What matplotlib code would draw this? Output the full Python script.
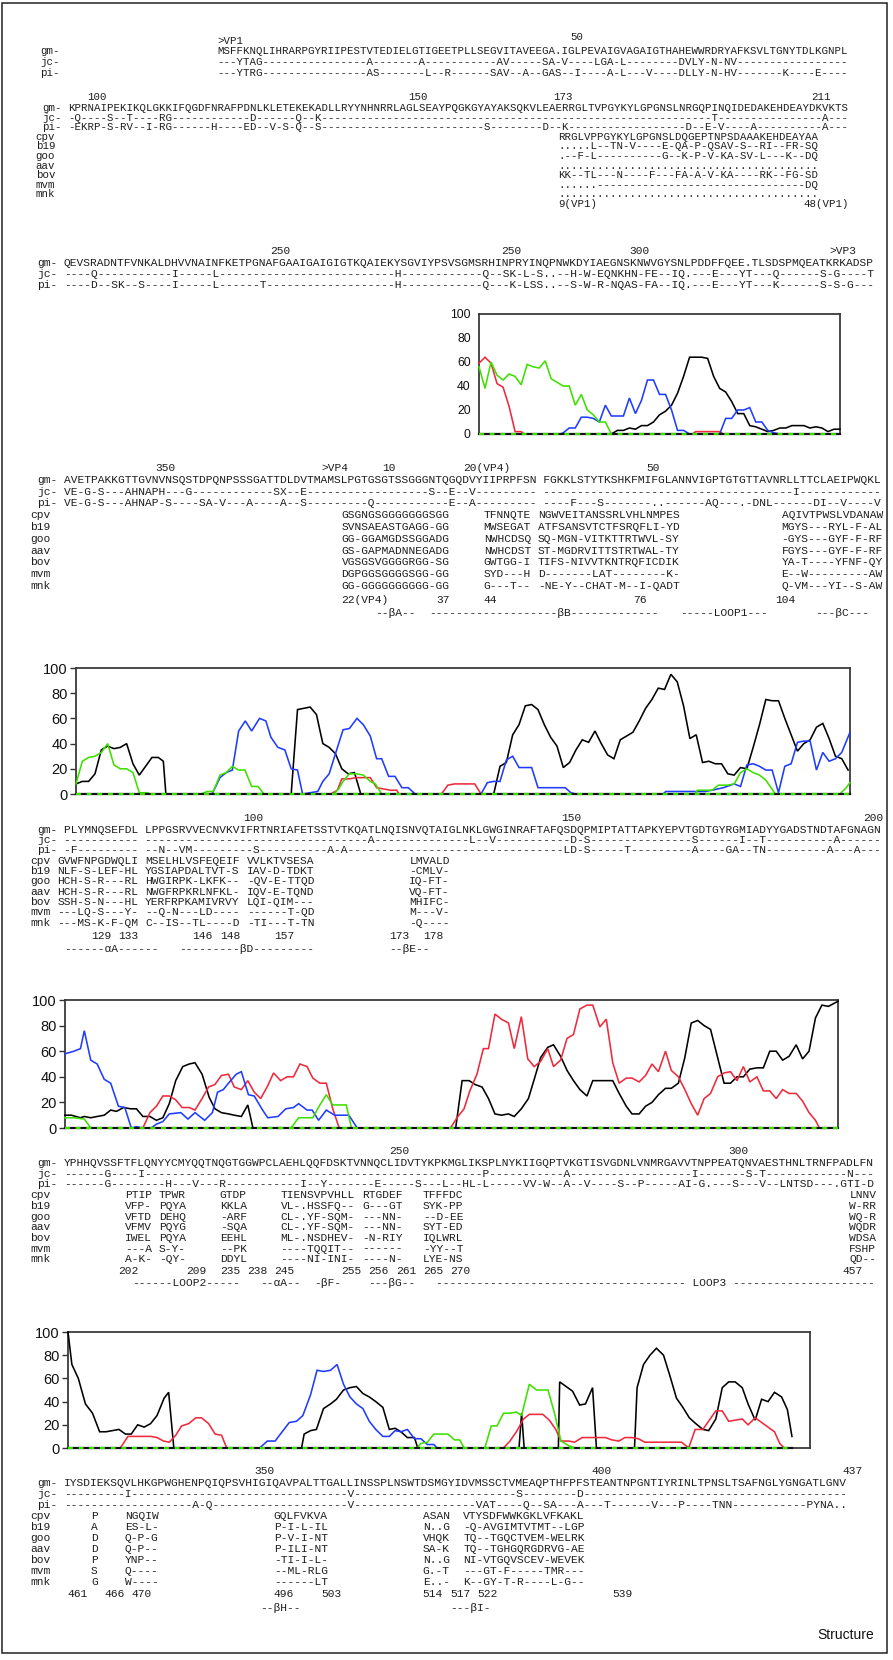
import numpy as np
import matplotlib
matplotlib.use("Agg")
import matplotlib.pyplot as plt
from matplotlib.patches import Rectangle


def mut(n, subs):
    """alignment row: '-' = identical residue, letters = substitutions"""
    s = ['-'] * n
    for c, t in subs.items():
        s[c:c + len(t)] = list(t)
    return ''.join(s)


SPECIES = ['cpv', 'b19', 'goo', 'aav', 'bov', 'mvm', 'mnk']

# ---------------- block 1 ----------------
gm1 = "MSFFKNQLIHRARPGYRIIPESTVTEDIELGTIGEETPLLSEGVITAVEEGA.IGLPEVAIGVAGAIGTHAHEWWRDRYAFKSVLTGNYTDLKGNPL"
jc1 = mut(97, {3: 'YTAG', 23: 'A', 31: 'A', 43: 'AV', 50: 'SA', 53: 'V', 58: 'LGA', 62: 'L',
               71: 'DVLY', 76: 'N', 78: 'NV'})
pi1 = mut(97, {3: 'YTRG', 23: 'AS', 32: 'L', 35: 'R', 42: 'SAV', 47: 'A', 50: 'GAS', 55: 'I',
               60: 'A', 62: 'L', 66: 'V', 71: 'DLLY', 76: 'N', 78: 'HV', 87: 'K', 92: 'E'})
nums1 = [(55.8, '50')]
marks1 = [(0, '>VP1')]

# ---------------- block 2 ----------------
gm2 = "KPRNAIPEKIKQLGKKIFQGDFNRAFPDNLKLETEKEKADLLRYYNHNRRLAGLSEAYPQGKGYAYAKSQKVLEAERRGLTVPGYKYLGPGNSLNRGQPINQIDEDAKEHDEAYDKVKTS"
jc2 = mut(120, {1: 'Q', 6: 'S', 9: 'T', 14: 'RG', 28: 'D', 35: 'Q', 38: 'K', 99: 'T', 116: 'A'})
pi2 = mut(120, {1: 'EKRP', 6: 'S', 8: 'RV', 12: 'I', 14: 'RG', 22: 'H', 27: 'ED', 31: 'V', 33: 'S',
                35: 'Q', 38: 'S', 64: 'S', 73: 'D', 76: 'K', 95: 'D', 98: 'E', 100: 'V', 105: 'A', 116: 'A'})
sp2 = [
    ["RRGLVPPGYKYLGPGNSLDQGEPTNPSDAAAKEHDEAYAA"],
    [".....L--TN-V----E-QA-P-QSAV-S--RI--FR-SQ"],
    [".--F-L----------G--K-P-V-KA-SV-L---K--DQ"],
    ["........................................"],
    ["KK--TL---N----F---FA-A-V-KA----RK--FG-SD"],
    ["......--------------------------------DQ"],
    ["........................................"],
]
cols2 = [76]
nums2 = [(4.5, '100'), (54.3, '150'), (76.7, '173'), (116.7, '211')]
pos2 = [(76, '9(VP1)'), (114, '48(VP1)')]

# ---------------- block 3 ----------------
gm3 = "QEVSRADNTFVNKALDHVVNAINFKETPGNAFGAAIGAIGIGTKQAIEKYSGVIYPSVSGMSRHINPRYINQPNWKDYIAEGNSKNWVGYSNLPDDFFQEE.TLSDSPMQEATKRKADSP"
jc3 = mut(120, {4: 'Q', 16: 'I', 22: 'L', 49: 'H', 62: 'Q', 65: 'SK', 68: 'L', 70: 'S', 71: '..',
                75: 'H', 77: 'W', 79: 'EQNKHN', 86: 'FE', 90: 'IQ.', 96: 'E', 100: 'YT', 105: 'Q',
                112: 'S', 114: 'G', 119: 'T'})
pi3 = mut(120, {4: 'D', 7: 'SK', 11: 'S', 16: 'I', 22: 'L', 29: 'T', 49: 'H', 62: 'Q', 66: 'K',
                68: 'LSS', 71: '..', 75: 'S', 77: 'W', 79: 'R', 81: 'NQAS', 86: 'FA', 90: 'IQ.',
                96: 'E', 100: 'YT', 105: 'K', 112: 'S', 114: 'S', 116: 'G'})
nums3 = [(32, '250'), (66, '250'), (85, '300')]
marks3 = [(113, '>VP3')]

# ---------------- block 4 ----------------
gm4 = "AVETPAKKGTTGVNVNSQSTDPQNPSSSGATTDLDVTMAMSLPGTGSGTSSGGGNTQGQDVYIIPRPFSN FGKKLSTYTKSHKFMIFGLANNVIGPTGTGTTAVNRLLTTCLAEIPWQKL"
jc4 = mut(121, {0: 'VE', 3: 'G', 5: 'S', 9: 'AHNAPH', 18: 'G', 31: 'SX', 35: 'E', 54: 'S', 57: 'E',
                60: 'V', 70: ' ', 108: 'I'})
pi4 = mut(121, {0: 'VE', 3: 'G', 5: 'S', 9: 'AHNAP', 15: 'S', 20: 'SA', 23: 'V', 27: 'A', 32: 'A',
                35: 'S', 45: 'Q', 57: 'E', 60: 'A', 70: ' ', 75: 'F', 79: 'S', 87: '..', 95: 'AQ',
                100: '.', 102: 'DNL', 111: 'DI', 115: 'V', 120: 'V'})
cols4 = [41, 62, 70, 106]
sp4 = [
    ["GSGNGSGGGGGGGSGG", "TFNNQTE", "NGWVEITANSSRLVHLNMPES", "AQIVTPWSLVDANAW"],
    ["SVNSAEASTGAGG-GG", "MWSEGAT", "ATFSANSVTCTFSRQFLI-YD", "MGYS---RYL-F-AL"],
    ["GG-GGAMGDSSGGADG", "NWHCDSQ", "SQ-MGN-VITKTTRTWVL-SY", "-GYS---GYF-F-RF"],
    ["GS-GAPMADNNEGADG", "NWHCDST", "ST-MGDRVITTSTRTWAL-TY", "FGYS---GYF-F-RF"],
    ["VGSGSVGGGGRGG-SG", "GWTGG-I", "TIFS-NIVVTKNTRQFICDIK", "YA-T----YFNF-QY"],
    ["DGPGGSGGGGSGG-GG", "SYD---H", "D-------LAT--------K-", "E--W---------AW"],
    ["GG-GGGGGGGGGG-GG", "G---T--", "-NE-Y--CHAT-M--I-QADT", "Q-VM---YI--S-AW"],
]
nums4 = [(15, '350'), (48, '10'), (87, '50')]
marks4 = [(38, '>VP4'), (59, '20(VP4)')]
pos4 = [(41, '22(VP4)'), (55, '37'), (62, '44'), (84, '76'), (105, '104')]
struct4 = [(46, '--βA--'), (54, '-------------------βB-------------'), (91, '-----LOOP1---'),
           (111, '---βC---')]

# ---------------- block 5 ----------------
gm5 = "PLYMNQSEFDL LPPGSRVVECNVKVIFRTNRIAFETSSTVTKQATLNQISNVQTAIGLNKLGWGINRAFTAFQSDQPMIPTATTAPKYEPVTGDTGYRGMIADYYGADSTNDTAFGNAGN"
jc5 = mut(121, {11: ' ', 45: 'A', 60: 'L', 63: 'V', 75: 'D', 77: 'S', 93: 'S', 100: 'I', 103: 'T',
                114: 'A'})
pi5 = mut(121, {1: 'F', 11: ' ', 14: 'N', 17: 'VM', 28: 'S', 39: 'A', 41: 'A', 74: 'LD', 77: 'S',
                83: 'T', 93: 'A', 98: 'GA', 102: 'TN', 113: 'A', 117: 'A'})
cols5 = [-1, 12, 27, 51]
sp5 = [
    ["GVWFNPGDWQLI", "MSELHLVSFEQEIF", "VVLKTVSESA", "LMVALD"],
    ["NLF-S-LEF-HL", "YGSIAPDALTVT-S", "IAV-D-TDKT", "-CMLV-"],
    ["HCH-S-R---RL", "HWGIRPK-LKFK--", "-QV-E-TTQD", "IQ-FT-"],
    ["HCH-S-R---RL", "NWGFRPKRLNFKL-", "IQV-E-TQND", "VQ-FT-"],
    ["SSH-S-N---HL", "YERFRPKAMIVRVY", "LQI-QIM---", "MHIFC-"],
    ["---LQ-S---Y-", "--Q-N---LD----", "------T-QD", "M---V-"],
    ["---MS-K-F-QM", "C--IS--TL----D", "-TI---T-TN", "-Q----"],
]
nums5 = [(28, '100'), (75, '150'), (119.5, '200')]
pos5 = [(4, '129'), (8, '133'), (19, '146'), (23, '148'), (31, '157'), (48, '173'), (53, '178')]
struct5 = [(0, '------αA------'), (17, '---------βD---------'), (48, '--βE--')]

# ---------------- block 6 ----------------
gm6 = "YPHHQVSSFTFLQNYYCMYQQTNQGTGGWPCLAEHLQQFDSKTVNNQCLIDVTYKPKMGLIKSPLNYKIIGQPTVKGTISVGDNLVNMRGAVVTNPPEATQNVAESTHNLTRNFPADLFN"
jc6 = mut(120, {6: 'G', 11: 'I', 62: 'P', 74: 'A', 93: 'I', 101: 'S', 103: 'T', 116: 'N'})
pi6 = mut(120, {6: 'G', 15: 'H', 19: 'V', 23: 'R', 35: 'I', 38: 'Y', 46: 'E', 52: 'S', 56: 'L',
                59: 'HL', 62: 'L', 68: 'VV', 71: 'W', 74: 'A', 77: 'V', 82: 'S', 85: 'P', 91: 'AI',
                94: 'G.', 99: 'S', 103: 'V', 106: 'LNTSD', 114: '.GTI', 119: 'D'})
cols6 = [9, 14, 23, 32, 44, 53, 116]
sp6 = [
    ["PTIP", "TPWR", "GTDP", "TIENSVPVHLL", "RTGDEF", "TFFFDC", "LNNV"],
    ["VFP-", "PQYA", "KKLA", "VL-.HSSFQ--", "G---GT", "SYK-PP", "W-RR"],
    ["VFTD", "DEHQ", "-ARF", "CL-.YF-SQM-", "---NN-", "--D-EE", "WQ-R"],
    ["VFMV", "PQYG", "-SQA", "CL-.YF-SQM-", "---NN-", "SYT-ED", "WQDR"],
    ["IWEL", "PQYA", "EEHL", "ML-.NSDHEV-", "-N-RIY", "IQLWRL", "WDSA"],
    ["---A", "S-Y-", "--PK", "----TQQIT--", "------", "-YY--T", "FSHP"],
    ["A-K-", "-QY-", "DDYL", "----NI-INI-", "----N-", "LYE-NS", "QD--"],
]
nums6 = [(49.5, '250'), (99.7, '300')]
pos6 = [(8, '202'), (18, '209'), (23, '235'), (27, '238'), (31, '245'), (41, '255'), (45, '256'),
        (49, '261'), (53, '265'), (57, '270'), (115, '457')]
struct6 = [(10, '------LOOP2-----'), (29, '--αA--'), (37, '-βF-'), (45, '---βG--'),
           (55, '------------------------------------- LOOP3 ---------------------')]

# ---------------- block 7 ----------------
gm7 = "IYSDIEKSQVLHKGPWGHENPQIQPSVHIGIQAVPALTTGALLINSSPLNSWTDSMGYIDVMSSCTVMEAQPTHFPFSTEANTNPGNTIYRINLTPNSLTSAFNGLYGNGATLGNV"
jc7 = mut(116, {9: 'I', 42: 'V', 67: 'S', 76: 'D'})
pi7 = mut(116, {19: 'A', 21: 'Q', 42: 'V', 61: 'VAT', 68: 'Q', 71: 'SA', 76: 'A', 80: 'T', 87: 'V',
                91: 'P', 96: 'TNN', 110: 'PYNA..'})
cols7 = [4, 9, 31, 53, 59]
sp7 = [
    ["P", "NGQIW", "GQLFVKVA", "ASAN", "VTYSDFWWKGKLVFKAKL"],
    ["A", "ES-L-", "P-I-L-IL", "N..G", "-Q-AVGIMTVTMT--LGP"],
    ["D", "Q-P-G", "P-V-I-NT", "VHQK", "TQ--TGQCTVEM-WELRK"],
    ["D", "Q-P--", "P-ILI-NT", "SA-K", "TQ--TGHGQRGDRVG-AE"],
    ["P", "YNP--", "-TI-I-L-", "N..G", "NI-VTGQVSCEV-WEVEK"],
    ["S", "Q----", "--ML-RLG", "G.-T", "---GT-F-----TMR---"],
    ["G", "W----", "------LT", "E..-", "K--GY-T-R----L-G--"],
]
nums7 = [(29.6, '350'), (79.4, '400'), (116.5, '437')]
pos7 = [(0.5, '461'), (6, '466'), (10, '470'), (31, '496'), (38, '503'), (53, '514'), (57, '517'),
        (61, '522'), (81, '539')]
struct7 = [(29, '--βH--'), (57, '---βI-')]

# ---------------- line-plot series (x = alignment position, y = %) ----------------
p1_black_x = [0, 22, 23, 24, 25, 26, 27, 28, 29, 30, 31, 32, 33, 34, 35, 36, 37, 38, 39, 40, 41, 42,
              43, 44, 45, 46, 47, 48, 49, 50, 51, 52, 53, 54, 55, 56, 57, 58, 59, 60]
p1_black_y = [0, 0, 3, 3, 5, 4, 7, 7, 10, 16, 19, 24, 34, 48, 64, 64, 64, 63, 48, 38, 35, 27,
              17, 17, 7, 6, 4, 2, 3, 5, 5, 7, 7, 7, 5, 6, 5, 2, 4, 4]
p1_blue_x = [0, 13.5, 14, 15, 16, 17, 18, 19, 20, 21, 22, 23, 24, 25, 26, 27, 28, 29, 30, 31, 32, 33,
             34, 35, 40, 41, 42, 43, 44, 45, 46, 47, 48, 49, 50, 60]
p1_blue_y = [0, 0, 1, 5, 5, 14, 14, 13, 10, 24, 15, 15, 15, 30, 17, 28, 45, 45, 33, 33, 20, 3,
             3, 0, 0, 13, 13, 20, 20, 22, 10, 10, 3, 1, 0, 0]
p1_red_x = [0, 1, 2, 3, 4, 5, 6, 7, 7.5, 35.5, 36, 40, 40.6, 60]
p1_red_y = [59, 64, 59, 42, 39, 23, 2, 2, 0, 0, 2, 2, 0, 0]
p1_green_x = [0, 1, 2, 3, 4, 5, 6, 7, 8, 9, 10, 11, 12, 13, 14, 15, 16, 17, 18, 19, 20, 21, 22, 60]
p1_green_y = [56, 38, 60, 49, 45, 50, 48, 41, 58, 56, 55, 61, 46, 43, 40, 40, 24, 33, 20, 16, 10,
              10, 0, 0]

p2_black_x = [0, 1, 2, 3, 4, 5, 6, 7, 8, 9, 10, 11, 12, 13, 13.8, 14.2, 34, 35, 36, 37, 38, 39, 40,
              41, 42, 43, 44, 45] + list(range(66, 123))
p2_black_y = [8, 10, 10, 16, 35, 38, 36, 37, 40, 24, 15, 22, 29, 29, 26, 0, 0, 67, 68, 69, 63, 40,
              37, 32, 20, 16, 17, 0,
              0, 22, 25, 47, 55, 70, 71, 67, 55, 45, 38, 21, 25, 35, 43, 41, 50, 40, 31, 28, 43, 46,
              49, 58, 68, 75, 84, 83, 95, 89, 70, 44, 47, 25, 26, 24, 24, 16, 15, 21, 20, 37, 55,
              75, 74, 74, 60, 47, 34, 40, 43, 53, 56, 44, 30, 28, 19]
p2_blue_x = [0, 21.5, 22.75, 23.75, 24.7, 25.7, 26.75, 27.75, 29, 30, 30.8, 31.9, 33, 34, 35, 35.8,
             37, 38.2, 39, 40, 41, 42.2, 43.2, 44.4, 45.4, 46.5, 47.5, 48.3, 49.4, 50.4, 51.5, 52.5,
             53.6, 64, 65, 66, 67, 68, 69, 70, 72, 73, 74, 77.3, 78.2, 79, 92.75, 93.2, 99.4, 100.5,
             102.3, 104, 105, 106, 107, 108, 109, 110, 111, 112, 113, 114, 115, 116, 117, 118, 119,
             120, 121, 122.3]
p2_blue_y = [0, 0, 13, 17, 19, 50, 58, 50, 60, 58, 45, 37, 35, 20, 19, 0, 1, 2, 10, 16, 32, 51, 52,
             60, 55, 46, 28, 28, 14, 14, 5, 5, 0, 0, 9, 10, 10, 27, 30, 21, 21, 5, 5, 5, 1, 0, 0, 2,
             2, 3, 5, 8, 6, 23, 24, 22, 19, 19, 1, 22, 24, 41, 42, 42, 19, 33, 26, 28, 33, 49]
p2_red_x = [0, 40.25, 41.3, 42, 43.2, 44.25, 46.5, 47.5, 48.6, 49.7, 50.7, 51, 57.75, 58.75, 59.8,
            63, 64, 122.3]
p2_red_y = [0, 0, 3, 12, 12, 13, 13, 5, 4, 3, 3, 0, 0, 7, 8, 8, 0, 0]
p2_green_x = [0, 1, 2, 3, 4, 5, 6, 7, 8, 9, 10, 11.3, 11.7, 19.8, 20.7, 21.7, 22.75, 23.75, 24.7,
              25.7, 26.7, 27.75, 28.75, 29.7, 40.7, 41.5, 42.2, 43.2, 44.4, 45.4, 46.5, 47.3, 48.3,
              97.75, 98.2, 100.5, 101.5, 102.9, 104, 105, 106, 107, 108, 109, 110.5, 120.7, 121.7,
              122.3]
p2_green_y = [8, 26, 29, 30, 33, 40, 23, 20, 20, 17, 1, 1, 0, 0, 2, 2, 15, 17, 22, 19, 19, 6, 6, 0,
              0, 4, 10, 16, 16, 15, 10, 8, 0, 0, 3, 3, 7, 7, 8, 17, 20, 17, 15, 11, 0, 0, 5, 9]

p3_black_x = [0, 1, 2.4, 3, 4, 5, 6.1, 7.1, 8, 9.1, 10.2, 11.1, 12.1, 13.2, 14.2, 15.2, 16.2, 17.2,
              18.3, 19.3, 20.2, 21.3, 22.4, 23.3, 24.3, 25.4, 26.3, 27.4, 28.4, 29.2, 60.7, 61.7,
              62.8, 63.7, 64.8, 65.8, 66.8, 67.8, 68.9, 69.8, 70.9, 72, 72.9, 73.9, 75, 75.9, 77,
              78, 79, 80, 81.1, 82, 83.1, 84.1, 85.1, 86.1, 87.2, 88.1, 89.2, 90.2, 91.2, 92.2,
              93.3, 94.2, 95.3, 96.3, 97.3, 98.3, 99.3, 100.3, 101.4, 102.4, 103.4, 104.4, 105.4,
              106.4, 107.5, 108.5, 109.5, 110.5, 111.5, 112.5, 113.6, 114.6, 115.6, 116.6, 117.6,
              118.6, 120.1]
p3_black_y = [10, 10, 8, 9, 8, 9, 10, 14, 13, 16, 15, 15, 9, 9, 6, 8, 19, 37, 48, 50, 51, 42, 24,
              15, 12, 11, 10, 9, 18, 0, 0, 37, 37, 34, 32, 23, 11, 10, 11, 9, 15, 23, 38, 55, 63,
              65, 56, 45, 37, 30, 25, 37, 37, 37, 37, 27, 17, 11, 11, 17, 20, 26, 31, 31, 35, 55,
              82, 84, 80, 77, 55, 35, 35, 40, 40, 46, 47, 47, 60, 60, 53, 56, 65, 54, 60, 86, 96,
              95, 99]
p3_blue_x = [0, 1.4, 2.4, 3, 4, 5, 6.1, 7.1, 8.3, 9.3, 10.3, 11.1, 12.1, 13.4, 14.2, 15.2, 16.2, 18,
             19.1, 20.2, 21.7, 22.9, 23.7, 24.6, 25.4, 26.6, 27.4, 28.5, 29.4, 30.7, 31.5, 33.1,
             34.3, 35.5, 36.3, 37.6, 38.4, 39.4, 40.6, 41.9, 44.1, 45.4, 120.1]
p3_blue_y = [58, 60, 62, 76, 53, 50, 38, 35, 17, 16, 0, 1, 0, 0, 3, 5, 11, 12, 7, 12, 6, 12, 28, 30,
             35, 42, 44, 26, 25, 14, 8, 9, 15, 16, 19, 14, 14, 6, 14, 10, 10, 0, 0]
p3_red_x = [0, 12.1, 13.2, 14.2, 15.2, 16.2, 17.2, 18.2, 19.3, 20.2, 21.3, 22.3, 23.3, 24.3, 25.4,
            26.3, 27.4, 28.4, 29.4, 30.4, 31.5, 32.4, 33.5, 34.5, 35.5, 36.5, 37.6, 38.5, 39.6,
            40.6, 41.6, 42.6, 59.9, 60.9, 62, 62.9, 64, 65, 65.8, 66.8, 67.8, 68.9, 69.8, 70.9,
            71.9, 72.9, 73.9, 75, 75.9, 77, 78, 79, 80, 81.1, 82, 83.1, 84.1, 85.1, 86.1, 87.2,
            88.1, 89.2, 90.2, 91.2, 92.2, 93.3, 94.2, 95.3, 96.3, 97.3, 98.3, 99.3, 100.3, 101.4,
            102.4, 103.4, 104.4, 105.4, 106.4, 107.5, 108.5, 109.5, 110.5, 111.5, 112.5, 113.6,
            114.6, 115.6, 116.6, 117.2, 120.1]
p3_red_y = [0, 0, 12, 17, 25, 25, 22, 16, 16, 14, 23, 32, 34, 41, 42, 32, 30, 37, 28, 23, 33, 43,
            37, 40, 40, 50, 48, 39, 35, 35, 15, 0, 0, 8, 15, 29, 42, 62, 62, 89, 85, 82, 62, 87, 54,
            48, 52, 62, 48, 53, 70, 73, 93, 96, 96, 79, 85, 51, 35, 39, 39, 36, 41, 50, 44, 60, 45,
            40, 30, 19, 10, 23, 27, 40, 43, 44, 37, 48, 36, 40, 29, 29, 23, 30, 27, 27, 21, 12, 6,
            0, 0]
p3_green_x = [0, 1.4, 3, 4, 35.1, 36.3, 37.6, 38.5, 39.6, 40.6, 41.6, 43.7, 44.5, 120.1]
p3_green_y = [8, 8, 7, 0, 0, 8, 8, 8, 18, 26, 18, 18, 0, 0]

p4_black_x = [0, 0.6, 1.6, 2.7, 3.8, 4.9, 5.9, 6.9, 7.9, 8.9, 9.8, 10.8, 11.8, 12.8, 13.8, 14.9,
              15.6, 16.4, 36.2, 36.6, 37.6, 38.5, 39.6, 40.7, 41.6, 42.7, 43.7, 44.7, 45.7, 46.7,
              47.7, 48.8, 49.8, 50.7, 51.6, 52.6, 53.7, 54.2, 69.9, 70.3, 70.7, 76, 76.2, 77.2,
              78.2, 79.3, 80.2, 81.3, 81.9, 87.8, 88.2, 89.2, 90.2, 91.2, 92.3, 93.3, 94.3, 95.3,
              96.3, 97.3, 98.4, 99.3, 100.4, 101.4, 102.4, 103.4, 104.5, 105.4, 106.5, 107.5,
              108.5, 109.5, 110.6, 111.5, 112.2]
p4_black_y = [100, 72, 60, 38, 30, 14, 14, 15, 16, 12, 12, 20, 18, 21, 28, 43, 48, 0, 0, 12, 15,
              16, 34, 38, 42, 50, 52, 53, 47, 44, 40, 35, 16, 17, 14, 9, 9, 0, 0, 30, 0, 0, 57, 53,
              49, 37, 38, 52, 0, 0, 52, 72, 80, 86, 80, 62, 43, 35, 26, 21, 16, 15, 25, 52, 57, 57,
              52, 38, 24, 42, 40, 48, 44, 33, 10]
p4_blue_x = [0, 29.7, 30.9, 32.1, 33.2, 34.3, 35.4, 36.4, 37.6, 38.6, 39.6, 40.7, 41.7, 42.7, 43.7,
             44.7, 45.7, 46.7, 47.7, 48.8, 49.8, 50.7, 51.6, 52.6, 53.7, 54.7, 55.7, 56.7, 57.2,
             112.2]
p4_blue_y = [0, 0, 6, 6, 14, 22, 23, 28, 46, 67, 66, 67, 72, 55, 44, 38, 34, 23, 16, 10, 10, 15,
             14, 16, 8, 8, 3, 3, 0, 0]
p4_red_x = [0, 8.1, 9.3, 11.4, 12.8, 13.8, 14.8, 15.7, 16.7, 17.6, 18.7, 19.8, 20.7, 21.8, 22.8,
            23.8, 24.6, 67.5, 68.5, 69.5, 70.6, 71.5, 72.6, 73.6, 74.6, 75.6, 76.4, 77.6, 78.5,
            79.7, 80.9, 82.1, 83.3, 84.3, 85.4, 86.3, 87.4, 88.4, 89.4, 95.1, 96.2, 97.2, 98.4,
            100.4, 101.4, 102.4, 103.4, 104.5, 105.4, 106.5, 107.5, 108.5, 109.5, 110.3, 111,
            112.2]
p4_red_y = [0, 0, 10, 10, 10, 9, 6, 5, 11, 19, 21, 26, 26, 21, 12, 11, 0, 0, 6, 14, 25, 29, 29,
            29, 24, 16, 6, 6, 5, 9, 9, 9, 9, 7, 6, 9, 9, 8, 5, 5, 0, 16, 16, 32, 32, 23, 24, 25,
            20, 26, 22, 18, 14, 4, 0, 0]
p4_green_x = [0, 54.1, 54.7, 55.7, 56.7, 57.9, 58.9, 59.9, 60.7, 61.4, 64.6, 65.6, 66.5, 67.5, 68.5,
              69.5, 70.3, 71.5, 72.6, 73.6, 74.4, 75.4, 76.4, 77.6, 78.6, 112.2]
p4_green_y = [0, 0, 4, 5, 12, 12, 12, 7, 7, 0, 0, 19, 19, 30, 30, 31, 28, 55, 50, 50, 50, 30, 6, 2,
              0, 0]

yticks = [0, 20, 40, 60, 80, 100]

# ---------------- drawing ----------------
W, H = 893, 1660
MONO = ['Liberation Mono', 'DejaVu Sans Mono']
SANS = ['Liberation Sans', 'DejaVu Sans']
NARROW = ['Liberation Sans Narrow', 'Liberation Sans', 'DejaVu Sans']
TXT = '#1e1e1e'
C_BLACK, C_BLUE, C_RED, C_GREEN = '#000000', '#1f3cff', '#ee2a3c', '#3ee000'

fig = plt.figure(figsize=(W / 100, H / 100), dpi=100)
fig.patch.set_facecolor('white')
fig.add_artist(Rectangle((2 / W, 1 - 1653 / H), 885 / W, 1650 / H, transform=fig.transFigure,
                         fill=False, lw=1.1, ec='#222222'))


def put(x, y, s, size, ha='left', color=TXT, family=MONO):
    fig.text(x / W, 1 - y / H, s, fontsize=size, family=family, color=color, ha=ha, va='center')


def block(x0, cw, fs, ynum, y0, dy, main, nums=(), marks=(), ymark=None, lab_x=None,
          species=None, cols=None, pos=(), ypos=None, struct=(), ystruct=None):
    for c, s in nums:
        put(x0 + c * cw, ynum, s, fs, ha='center')
    for c, s in marks:
        put(x0 + c * cw, ymark if ymark is not None else ynum, s, fs)
    lx = lab_x if lab_x is not None else x0 - 4 * cw
    for k, (lab, row) in enumerate(main):
        y = y0 + k * dy
        put(lx, y, lab, fs)
        put(x0, y, row, fs)
    if species:
        for k, segs in enumerate(species):
            y = y0 + (len(main) + k) * dy
            put(x0 - 5 * cw, y, SPECIES[k], fs)
            for c, s in zip(cols, segs):
                put(x0 + c * cw, y, s, fs)
    for c, s in pos:
        put(x0 + c * cw, ypos, s, fs)
    for c, s in struct:
        put(x0 + c * cw, ystruct, s, fs)


FS1, CW1 = 7.74, 6.45
FS2, CW2 = 8.12, 6.77
block(217, CW1, FS1, 37, 51, 11, [('gm-', gm1), ('jc-', jc1), ('pi-', pi1)],
      nums=nums1, marks=marks1, ymark=41, lab_x=40)
block(68, CW1, FS1, 96.5, 108, 9.6, [('gm-', gm2), ('jc-', jc2), ('pi-', pi2)], nums=nums2,
      species=sp2, cols=cols2, pos=pos2, ypos=204)
block(64, CW2, FS2, 251, 263, 11, [('gm-', gm3), ('jc-', jc3), ('pi-', pi3)], nums=nums3,
      marks=marks3)
block(64, CW2, FS2, 468, 480, 11.75, [('gm-', gm4), ('jc-', jc4), ('pi-', pi4)], nums=nums4,
      marks=marks4, species=sp4, cols=cols4, pos=pos4, ypos=600, struct=struct4, ystruct=613)
block(64, CW2, FS2, 818, 829.5, 10.35, [('gm-', gm5), ('jc-', jc5), ('pi-', pi5)], nums=nums5,
      species=sp5, cols=cols5, pos=pos5, ypos=935.5, struct=struct5, ystruct=949)
block(64, CW2, FS2, 1151, 1163, 10.7, [('gm-', gm6), ('jc-', jc6), ('pi-', pi6)], nums=nums6,
      species=sp6, cols=cols6, pos=pos6, ypos=1270.5, struct=struct6, ystruct=1283)
block(64, CW2, FS2, 1471, 1483, 10.97, [('gm-', gm7), ('jc-', jc7), ('pi-', pi7)], nums=nums7,
      species=sp7, cols=cols7, pos=pos7, ypos=1594, struct=struct7, ystruct=1608)

put(874, 1635, 'Structure', 10, ha='right', family=SANS, color='#111111')


def gapped(x, y):
    """do not redraw runs that lie on the zero baseline"""
    xs, ys = [], []
    for i in range(len(x)):
        if i > 0 and y[i] == 0 and y[i - 1] == 0:
            xs.append(np.nan)
            ys.append(np.nan)
        xs.append(x[i])
        ys.append(y[i])
    return xs, ys


def panel(rect, xmax, series, tick_fs, tick_family, ticklen, base_end=None):
    l, r, t, b = rect
    ax = fig.add_axes([l / W, 1 - b / H, (r - l) / W, (b - t) / H])
    ax.set_xlim(0, xmax)
    ax.set_ylim(0, 100)
    for xs, ys, col in series:
        gx, gy = gapped(xs, ys)
        ax.plot(gx, gy, color=col, lw=1.15, solid_joinstyle='miter', clip_on=False, zorder=3)
    end = base_end if base_end is not None else xmax
    ax.plot([0, end], [0, 0], color='#111111', lw=1.6, clip_on=False, zorder=4)
    ax.plot([0, end], [0, 0], color=C_GREEN, lw=1.6, dashes=(2.2, 2.6), clip_on=False, zorder=5)
    ax.set_xticks([])
    ax.set_yticks(yticks)
    ax.set_yticklabels([str(v) for v in yticks], fontsize=tick_fs, family=tick_family,
                       color='#111111')
    ax.tick_params(axis='y', length=ticklen, width=1.0, color='#333333', pad=2 if ticklen else 6)
    for sp in ax.spines.values():
        sp.set_color('#3a3a3a')
        sp.set_linewidth(1.3)
    return ax


panel((479, 840, 314, 434), 60,
      [(p1_black_x, p1_black_y, C_BLACK), (p1_red_x, p1_red_y, C_RED),
       (p1_blue_x, p1_blue_y, C_BLUE), (p1_green_x, p1_green_y, C_GREEN)],
      8.8, SANS, 0)
panel((76, 850, 668, 794), 122.3,
      [(p2_black_x, p2_black_y, C_BLACK), (p2_red_x, p2_red_y, C_RED),
       (p2_blue_x, p2_blue_y, C_BLUE), (p2_green_x, p2_green_y, C_GREEN)],
      10.5, NARROW, 4)
panel((65, 838, 1000, 1128), 120.1,
      [(p3_black_x, p3_black_y, C_BLACK), (p3_red_x, p3_red_y, C_RED),
       (p3_blue_x, p3_blue_y, C_BLUE), (p3_green_x, p3_green_y, C_GREEN)],
      10.5, NARROW, 4)
panel((68, 810, 1332, 1448), 115,
      [(p4_black_x, p4_black_y, C_BLACK), (p4_red_x, p4_red_y, C_RED),
       (p4_blue_x, p4_blue_y, C_BLUE), (p4_green_x, p4_green_y, C_GREEN)],
      10.5, NARROW, 4, base_end=112.2)

fig.savefig('out.png', dpi=100, facecolor='white')
